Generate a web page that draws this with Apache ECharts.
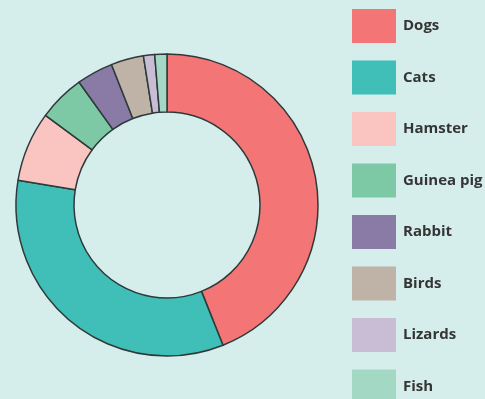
<!DOCTYPE html>
<html>
<head>
<meta charset="utf-8">
<script src="https://cdn.jsdelivr.net/npm/echarts@6/dist/echarts.min.js"></script>
<style>
html,body{margin:0;padding:0;background:#d5edeb;}
#c{width:485px;height:399px;}
</style>
</head>
<body>
<div id="c"></div>
<script>
const categories = ['Dogs','Cats','Hamster','Guinea pig','Rabbit','Birds','Lizards','Fish'];
const values = [44, 33.7, 7.5, 5, 3.9, 3.5, 1.2, 1.3];
const colors = ['#f47576','#3fbfb8','#fac4c0','#7dc9a5','#8a7aa6','#bfb2a7','#c8bdd5','#a3d9c4'];

const chart = echarts.init(document.getElementById('c'));
chart.setOption({
  backgroundColor: '#d5edeb',
  animation: false,
  color: colors,
  legend: {
    type: 'plain',
    orient: 'vertical',
    left: 352,
    top: 9,
    height: 600,
    padding: 0,
    itemWidth: 44,
    itemHeight: 34,
    itemGap: 17.5,
    icon: 'rect',
    itemStyle: { borderWidth: 0 },
    textStyle: { fontFamily: 'Open Sans', fontWeight: 'bold', fontSize: 15, color: '#353535', padding: [0,0,0,2] },
    data: categories
  },
  series: [{
    type: 'pie',
    center: [167, 205],
    radius: [93, 151],
    startAngle: 90,
    clockwise: true,
    label: { show: false },
    labelLine: { show: false },
    emphasis: { disabled: true },
    itemStyle: { borderColor: '#2e3a3a', borderWidth: 1.5 },
    data: categories.map((n, i) => ({ name: n, value: values[i] }))
  }]
});
</script>
</body>
</html>
